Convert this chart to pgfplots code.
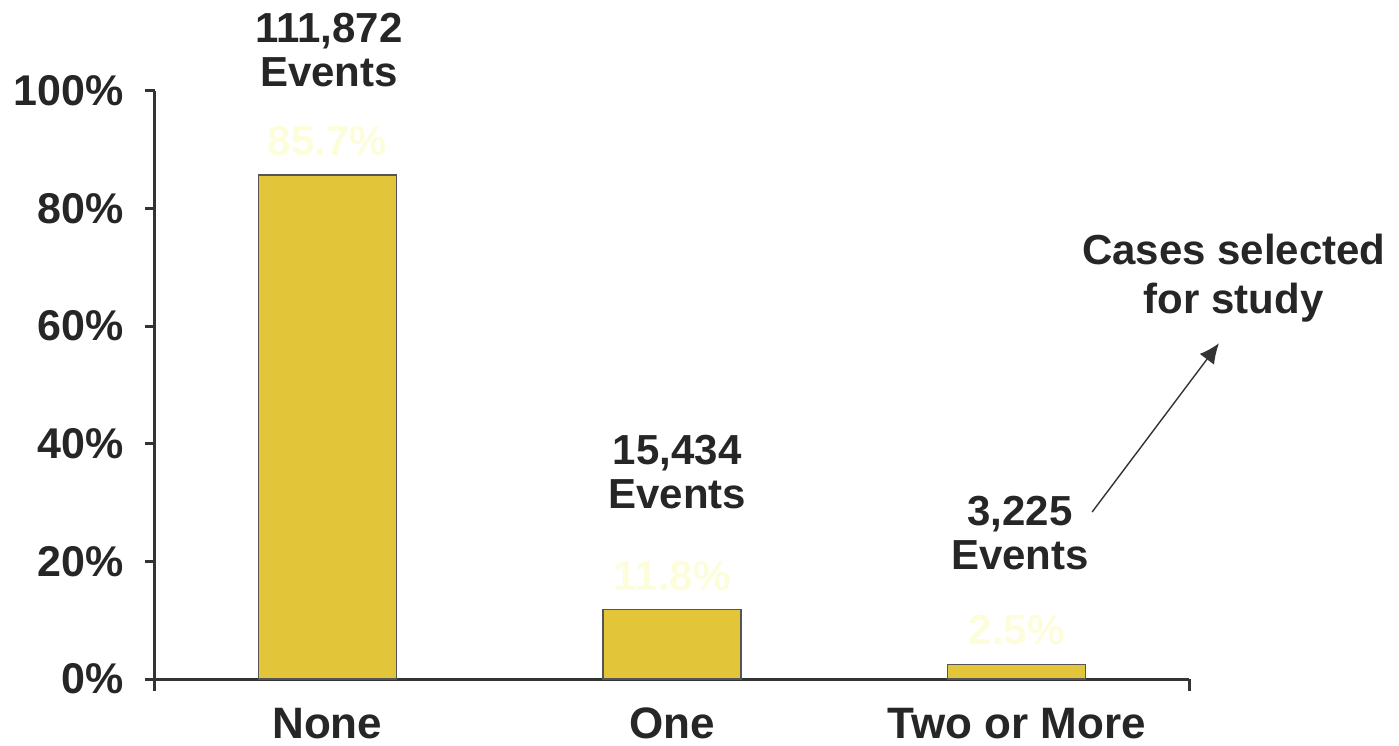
\documentclass[border=0pt]{standalone}
\usepackage{pgfplots}
\pgfplotsset{compat=1.18}
\usetikzlibrary{arrows.meta}
\usepackage{fontspec}
\setmainfont{Liberation Sans}
\definecolor{barfill}{HTML}{E3C53A}
\definecolor{baredge}{HTML}{555555}
\definecolor{faint}{HTML}{FDFDDC}
\definecolor{txt}{HTML}{262626}
\definecolor{axc}{HTML}{333333}
\begin{document}
\begin{tikzpicture}[font=\bfseries\fontsize{21bp}{22bp}\selectfont, text=txt]
\useasboundingbox (-77.5bp,-33.5bp) rectangle (622bp,339.5bp);
\begin{axis}[
  at={(0,0)}, anchor=south west,
  scale only axis, width=517bp, height=294bp,
  xmin=-0.5, xmax=2.5, ymin=0, ymax=100,
  axis x line*=bottom, axis y line*=left,
  axis line style={draw=axc, line width=1.5bp},
  clip=false,
  xtick={0,1,2},
  xticklabels={None,One,Two or More},
  x tick style={draw=none},
  xticklabel style={font=\bfseries\fontsize{22bp}{22bp}\selectfont, yshift=-6bp},
  ytick={0,20,40,60,80,100},
  yticklabels={0\%,20\%,40\%,60\%,80\%,100\%},
  y tick style={draw=axc, line width=1.5bp},
  ytick align=outside, major tick length=5bp,
  yticklabel style={anchor=east, xshift=-7bp, font=\bfseries\fontsize{21.5bp}{22bp}\selectfont},
  /pgf/number format/assume math mode=true,
  ybar, bar width=69bp,
  nodes near coords={\pgfmathprintnumber{\pgfplotspointmeta}\%},
  nodes near coords style={text=faint, anchor=center, yshift=17bp},
]
\addplot[fill=barfill, draw=baredge, line width=0.6bp] coordinates {(0,85.7) (1,11.8) (2,2.5)};
\draw[axc, line width=1.5bp] (axis cs:-0.5,0) -- ([yshift=-6bp]axis cs:-0.5,0);
\draw[axc, line width=1.5bp] (axis cs:2.5,0) -- ([yshift=-6bp]axis cs:2.5,0);
\node[align=center] at (axis cs:0.005,107) {111,872\\Events};
\node[align=center] at (axis cs:1.015,35.2) {15,434\\Events};
\node[align=center] at (axis cs:2.01,24.8) {3,225\\Events};
\node[align=center, font=\bfseries\fontsize{21bp}{24.5bp}\selectfont] at (axis cs:2.63,68.2) {Cases selected\\for study};
\draw[-{Latex[length=10bp,width=9bp]}, axc, line width=0.7bp] (axis cs:2.219,28.4) -- (axis cs:2.587,57.1);
\end{axis}
\end{tikzpicture}
\end{document}
